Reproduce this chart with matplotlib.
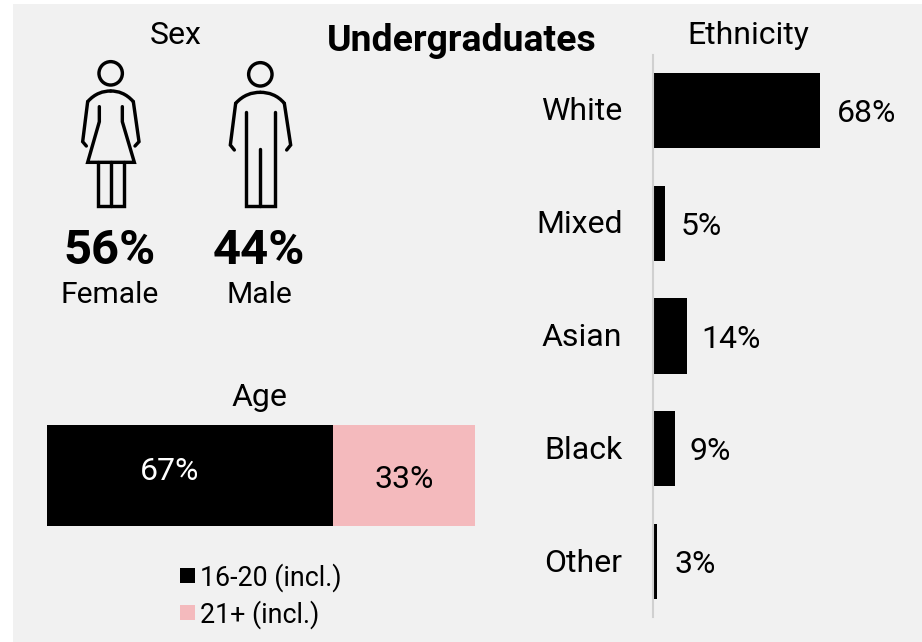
import matplotlib
matplotlib.use("Agg")
import matplotlib.pyplot as plt
from matplotlib.path import Path
from matplotlib.patches import PathPatch, Circle, Rectangle
from matplotlib.transforms import ScaledTranslation

W, H = 922, 642
PANEL = "#f1f1f1"
PINK = "#f4babd"
GRID = "#d0d0d0"

ethnicity = ["White", "Mixed", "Asian", "Black", "Other"]
ethnicity_values = [68, 5, 14, 9, 2]
ethnicity_labels = ["68%", "5%", "14%", "9%", "3%"]
age_groups = ["16-20 (incl.)", "21+ (incl.)"]
age_values = [67, 33]
sex_labels = ["Female", "Male"]
sex_values = ["56%", "44%"]

plt.rcParams["font.family"] = ["Roboto", "DejaVu Sans"]
fig = plt.figure(figsize=(W / 100, H / 100), dpi=100, facecolor="white")
PT = 72 / 100  # px to pt
LW = 3.4 * PT


def rect(l, t, r, b):
    return [l / W, 1 - b / H, (r - l) / W, (b - t) / H]


bg = fig.add_axes([0, 0, 1, 1], zorder=0)
bg.set_xlim(0, W)
bg.set_ylim(H, 0)
bg.axis("off")
bg.add_patch(Rectangle((13, 4), W - 13, H - 4, fc=PANEL, ec="none"))


def z(x, y, ox=50, oy=40):
    return (ox + x / 3, oy + y / 3)


def stroke(pts):
    verts = [z(*p) for p in pts]
    bg.plot(*zip(*verts), color="black", lw=LW, solid_capstyle="round",
            solid_joinstyle="miter", zorder=3)


def shoulders(a, c1, c2, b):
    p = Path([z(*a), z(*c1), z(*c2), z(*b)],
             [Path.MOVETO, Path.CURVE4, Path.CURVE4, Path.CURVE4])
    bg.add_patch(PathPatch(p, fc="none", ec="black", lw=LW, capstyle="round", zorder=3))


# Female icon
bg.add_patch(Circle(z(182, 100), 11.7, fc="none", ec="black", lw=LW, zorder=3))
stroke([(109, 318), (98, 305), (113, 185)])
stroke([(255, 318), (267, 305), (250, 185)])
shoulders((113, 185), (135, 160), (160, 153), (182, 153))
shoulders((250, 185), (228, 160), (204, 153), (182, 153))
stroke([(148, 200), (148, 245), (113, 367), (253, 367), (217, 245), (217, 200)])
stroke([(143, 367), (143, 497), (223, 497), (223, 367)])
stroke([(183, 367), (183, 497)])

# Male icon
bg.add_patch(Circle(z(631, 103), 11.7, fc="none", ec="black", lw=LW, zorder=3))
stroke([(553, 330), (541, 315), (557, 190)])
stroke([(710, 330), (722, 315), (703, 190)])
shoulders((557, 190), (580, 165), (605, 157), (631, 157))
shoulders((703, 190), (682, 165), (656, 157), (631, 157))
stroke([(587, 217), (587, 499), (676, 499), (676, 217)])
stroke([(631, 328), (631, 499)])


def txt(x, y, s, px=32, **kw):
    bg.text(x, y, s, fontsize=px * PT, ha=kw.pop("ha", "center"), va="center_baseline",
            color=kw.pop("color", "black"), zorder=5, **kw)


txt(176, 32, "Sex")
txt(461.5, 37, "Undergraduates", px=37.4, fontweight="bold")
txt(748, 32, "Ethnicity")
txt(259, 395, "Age")
for x, v, lab in zip([110, 259], sex_values, sex_labels):
    txt(x, 246.5, v, px=49, fontweight="bold")
    txt(x, 292, lab, px=30)

# Ethnicity bars
ax = fig.add_axes(rect(652.5, 55, 922, 617), zorder=1)
ax.patch.set_alpha(0)
ax.barh(range(len(ethnicity)), ethnicity_values, height=0.667, color="black")
ax.set_ylim(4.49, -0.49)
ax.set_xlim(0, 269.5 / 2.46)
for s in ["top", "right", "bottom"]:
    ax.spines[s].set_visible(False)
ax.spines["left"].set_color(GRID)
ax.spines["left"].set_linewidth(1.5)
ax.set_xticks([])
ax.set_yticks(range(len(ethnicity)), ethnicity, fontsize=32 * PT)
ax.tick_params(axis="y", length=0, pad=30 * PT)
shift = ScaledTranslation(0, 1.5 / 100, fig.dpi_scale_trans)
for t in ax.get_yticklabels():
    t.set_transform(t.get_transform() + shift)
for i, (v, lab, dx) in enumerate(zip(ethnicity_values, ethnicity_labels, [17, 16, 14, 15, 17])):
    ax.annotate(lab, (v, i), xytext=(dx * PT, 0), textcoords="offset points",
                va="center_baseline", ha="left", fontsize=32 * PT)

# Age stacked bar
ax2 = fig.add_axes(rect(46.5, 425, 474.5, 526), zorder=1)
ax2.axis("off")
ax2.set_xlim(0, sum(age_values))
ax2.set_ylim(0, 1)
age_colors = ["black", PINK]
left = 0
for v, c in zip(age_values, age_colors):
    ax2.barh(0.5, v, left=left, height=1, color=c)
    left += v
ax2.text(170, 468, f"{age_values[0]}%", color="white", transform=bg.transData, ha="center",
         va="center_baseline", fontsize=32 * PT, zorder=5)
ax2.text(404, 476, f"{age_values[1]}%", color="black", transform=bg.transData, ha="center",
         va="center_baseline", fontsize=32 * PT, zorder=5)

# Legend
for y, c, lab in zip([576, 613], age_colors, age_groups):
    bg.add_patch(Rectangle((180, y - 8), 15, 15, fc=c, ec="none", zorder=3))
    txt(200, y - 2, lab, px=26.8, ha="left")

fig.savefig("out.png", dpi=100, facecolor="white")
